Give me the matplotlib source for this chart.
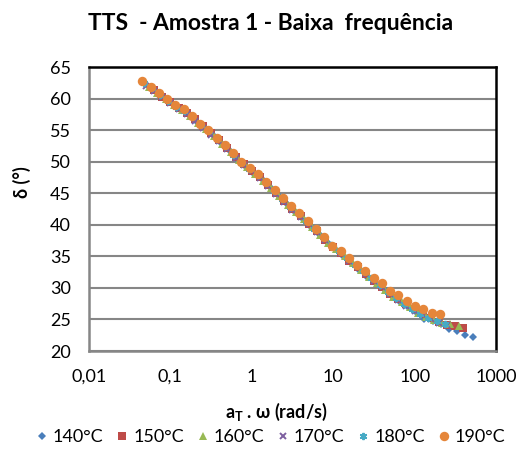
import matplotlib
matplotlib.use("Agg")
import matplotlib.pyplot as plt
from matplotlib.lines import Line2D

plt.rcParams['font.family'] = ['Lato', 'DejaVu Sans']
plt.rcParams['mathtext.fontset'] = 'custom'
plt.rcParams['mathtext.rm'] = 'Lato'
plt.rcParams['mathtext.bf'] = 'Lato:bold'

title = "TTS  - Amostra 1 - Baixa  frequência"
xlabel = r"a$_{\mathbf{T}}$ . ω (rad/s)"
ylabel = "δ (°)"
series_names = ["140°C", "150°C", "160°C", "170°C", "180°C", "190°C"]
xtick_vals = [0.01, 0.1, 1, 10, 100, 1000]
xtick_labels = ["0,01", "0,1", "1", "10", "100", "1000"]
ytick_vals = [20, 25, 30, 35, 40, 45, 50, 55, 60, 65]

x_140 = [0.0832, 0.1047, 0.1318, 0.1660, 0.2089, 0.2630, 0.3311, 0.4169, 0.5248, 0.6607,
         0.8318, 1.047, 1.318, 1.660, 2.089, 2.630, 3.311, 4.169, 5.248, 6.607,
         8.318, 10.47, 13.18, 16.60, 20.89, 26.30, 33.11, 41.69, 52.48, 66.07,
         83.18, 104.7, 131.8, 166.0, 208.9, 263.0, 331.1, 416.9, 524.8]
d_140 = [60.1, 59.3, 58.4, 57.5, 56.4, 55.3, 54.2, 53.0, 51.8, 50.5,
         49.3, 48.2, 47.2, 46.0, 44.7, 43.4, 42.2, 41.1, 39.8, 38.5,
         37.2, 36.1, 35.1, 34.0, 32.9, 31.8, 30.7, 29.8, 28.7, 27.8,
         27.0, 26.2, 25.1, 24.7, 24.2, 23.5, 23.1, 22.6, 22.2]

x_150 = [0.0631, 0.0794, 0.1, 0.1259, 0.1585, 0.1995, 0.2512, 0.3162, 0.3981, 0.5012,
         0.631, 0.7943, 1.0, 1.259, 1.585, 1.995, 2.512, 3.162, 3.981, 5.012,
         6.310, 7.943, 10.0, 12.59, 15.85, 19.95, 25.12, 31.62, 39.81, 50.12,
         63.10, 79.43, 100.0, 125.9, 158.5, 199.5, 251.2, 316.2, 398.1]
d_150 = [61.3, 60.3, 59.4, 58.5, 57.7, 56.7, 55.6, 54.5, 53.4, 52.2,
         50.8, 49.6, 48.6, 47.5, 46.3, 45.0, 43.7, 42.5, 41.4, 40.2,
         39.0, 37.6, 36.4, 35.5, 34.3, 33.3, 32.2, 31.1, 30.2, 29.1,
         28.2, 27.4, 26.6, 25.9, 25.2, 24.6, 24.1, 23.9, 23.7]

x_160 = [0.0550, 0.0692, 0.0871, 0.1096, 0.1380, 0.1738, 0.2188, 0.2754, 0.3467, 0.4365,
         0.5495, 0.6918, 0.8710, 1.096, 1.380, 1.738, 2.188, 2.754, 3.467, 4.365,
         5.495, 6.918, 8.710, 10.96, 13.80, 17.38, 21.88, 27.54, 34.67, 43.65,
         54.95, 69.18, 87.10, 109.6, 138.0, 173.8, 218.8, 275.4, 346.7]
d_160 = [61.9, 60.9, 59.9, 59.0, 58.2, 57.3, 56.2, 55.1, 54.0, 52.8,
         51.5, 50.2, 49.1, 48.1, 47.0, 45.8, 44.5, 43.2, 42.1, 40.9,
         39.7, 38.4, 37.1, 36.1, 35.0, 34.0, 32.9, 31.8, 30.8, 29.7,
         28.6, 27.8, 26.9, 26.1, 25.4, 24.9, 24.5, 24.2, 24.0]

x_170 = [0.0501, 0.0631, 0.0794, 0.1, 0.1259, 0.1585, 0.1995, 0.2512, 0.3162, 0.3981,
         0.5012, 0.631, 0.7943, 1.0, 1.259, 1.585, 1.995, 2.512, 3.162, 3.981,
         5.012, 6.310, 7.943, 10.0, 12.59, 15.85, 19.95, 25.12, 31.62, 39.81,
         50.12, 63.10, 79.43, 100.0, 125.9, 158.5, 199.5, 251.2]
d_170 = [62.0, 61.2, 60.2, 59.3, 58.4, 57.6, 56.5, 55.4, 54.3, 53.2,
         52.0, 50.6, 49.4, 48.5, 47.4, 46.2, 44.9, 43.6, 42.4, 41.3,
         40.1, 38.9, 37.6, 36.4, 35.5, 34.3, 33.3, 32.2, 31.1, 30.1,
         29.0, 28.1, 27.2, 26.4, 25.7, 25.0, 24.5, 24.1]

x_180 = [0.0468, 0.0589, 0.0741, 0.0933, 0.1175, 0.1479, 0.1862, 0.2344, 0.2951, 0.3715,
         0.4677, 0.5888, 0.7413, 0.9333, 1.175, 1.479, 1.862, 2.344, 2.951, 3.715,
         4.677, 5.888, 7.413, 9.333, 11.75, 14.79, 18.62, 23.44, 29.51, 37.15,
         46.77, 58.88, 74.13, 93.33, 117.5, 147.9, 186.2, 234.4]
d_180 = [62.4, 61.6, 60.6, 59.6, 58.7, 58.0, 57.0, 55.8, 54.8, 53.6,
         52.5, 51.1, 49.8, 48.8, 47.9, 46.7, 45.4, 44.1, 42.8, 41.8,
         40.6, 39.4, 38.1, 36.8, 35.8, 34.7, 33.7, 32.6, 31.5, 30.5,
         29.4, 28.4, 27.5, 26.6, 25.8, 25.2, 24.7, 24.3]

x_190 = [0.0452, 0.0571, 0.0721, 0.0911, 0.1151, 0.1454, 0.1837, 0.2320, 0.2931, 0.3702,
         0.4677, 0.5908, 0.7464, 0.9430, 1.191, 1.505, 1.901, 2.402, 3.034, 3.833,
         4.842, 6.117, 7.727, 9.761, 12.33, 15.58, 19.68, 24.86, 31.41, 39.67,
         50.12, 63.31, 79.98, 101.0, 127.6, 161.3, 203.7]
d_190 = [62.8, 61.9, 60.9, 59.9, 59.0, 58.3, 57.3, 56.0, 55.0, 53.8,
         52.7, 51.3, 50.0, 49.0, 48.0, 46.8, 45.5, 44.2, 42.9, 41.9,
         40.6, 39.4, 38.0, 36.7, 35.9, 34.7, 33.7, 32.6, 31.5, 30.7,
         29.5, 28.8, 27.9, 27.2, 26.6, 26.0, 25.8]

xs = [x_140, x_150, x_160, x_170, x_180, x_190]
ds = [d_140, d_150, d_160, d_170, d_180, d_190]
colors = ["#4A7EBB", "#BE4B48", "#98B954", "#7D60A0", "#46AAC5", "#E5863A"]
markers = ["D", "s", "^", "x", (6, 2, 0), "o"]
msizes = [4.2, 5.5, 6.2, 5.0, 5.2, 6.8]
thin = ("x", (6, 2, 0))

fig = plt.figure(figsize=(5.24, 4.5), dpi=100)
ax = fig.add_axes([89/524, 1-351/450, (496-89)/524, (351-67)/450])

for x, d, c, m, s, name in zip(xs, ds, colors, markers, msizes, series_names):
    ax.plot(x, d, linestyle="none", marker=m, markersize=s, color=c,
            markeredgewidth=(1.4 if m in thin else 0), label=name)

ax.set_xscale("log")
ax.set_xlim(0.01, 1000)
ax.set_ylim(20, 65)
ax.set_xticks(xtick_vals)
ax.set_xticklabels(xtick_labels)
ax.xaxis.set_minor_locator(matplotlib.ticker.NullLocator())
ax.set_yticks(ytick_vals)
ax.tick_params(axis="both", length=0, labelsize=13)
ax.tick_params(axis="x", pad=13)
ax.tick_params(axis="y", pad=13)
ax.grid(axis="y", color="#868686", linewidth=1.5)
ax.set_axisbelow(True)
for side in ["top", "right"]:
    ax.spines[side].set_color("black")
    ax.spines[side].set_linewidth(1.8)
for side in ["left", "bottom"]:
    ax.spines[side].set_color("#868686")
    ax.spines[side].set_linewidth(1.8)

fig.text(271/524, 1-24/450, title, ha="center", va="center",
         fontsize=16.5, fontweight="bold")
fig.text(22/524, 1-182/450, ylabel, ha="center", va="center",
         rotation=90, fontsize=13, fontweight="bold")
fig.text(276/524, 1-412/450, xlabel, ha="center", va="center",
         fontsize=13, fontweight="bold")

handles = [Line2D([], [], linestyle="none", marker=m, markersize=s, color=c,
                  markeredgewidth=(1.4 if m in thin else 0))
           for c, m, s in zip(colors, markers, msizes)]
fig.legend(handles, series_names, loc="center", bbox_to_anchor=(269/524, 1-437/450),
           ncol=6, frameon=False, fontsize=13, handletextpad=0.1,
           columnspacing=0.55, handlelength=1.0, borderpad=0)

fig.savefig("out.png", dpi=100)
